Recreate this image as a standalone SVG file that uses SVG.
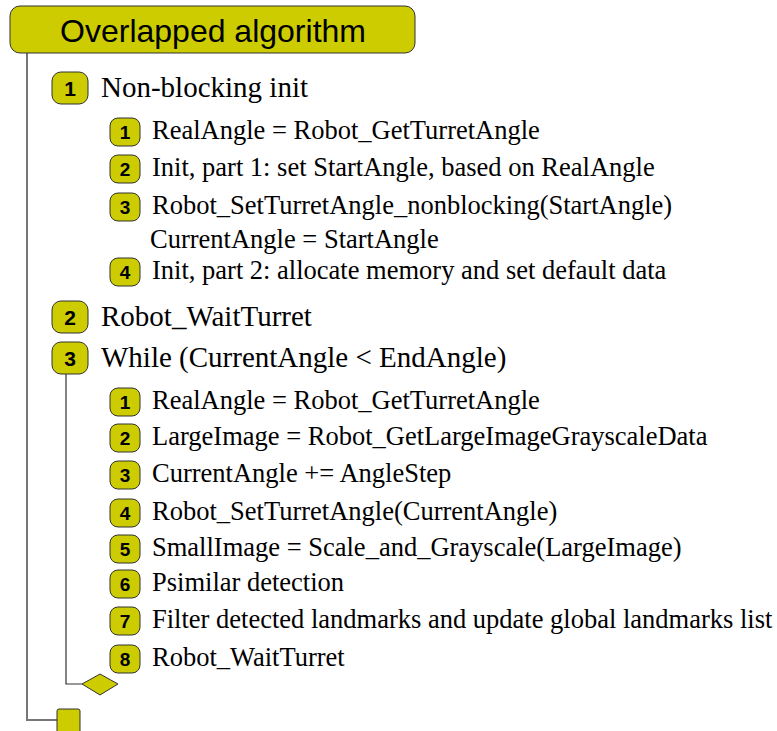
<svg xmlns="http://www.w3.org/2000/svg" width="777" height="731" viewBox="0 0 777 731">
  <style>
    .box { fill: #cccc00; stroke: #333333; stroke-width: 1; }
    .num1 { font-family: "Liberation Sans", Arial, sans-serif; font-weight: bold; font-size: 21px; fill: #000; text-anchor: middle; }
    .num2 { font-family: "Liberation Sans", Arial, sans-serif; font-weight: bold; font-size: 19px; fill: #000; text-anchor: middle; }
    .t1 { font-family: "Liberation Serif", "Times New Roman", serif; font-size: 29px; fill: #000; }
    .t2 { font-family: "Liberation Serif", "Times New Roman", serif; font-size: 26.5px; fill: #000; }
    .title { font-family: "Liberation Sans", Arial, sans-serif; font-size: 32px; fill: #000; text-anchor: middle; }
    .trunk { fill: none; stroke: #777777; stroke-width: 2; }
    .branch { fill: none; stroke: #333333; stroke-width: 1.2; }
  </style>

  <g id="connectors">
    <polyline class="trunk" points="27,53 27,720 57,720"/>
    <polyline class="branch" points="66,374 66,684 82,684"/>
  </g>

  <g id="title">
    <rect class="box" x="10" y="6" width="405" height="47" rx="10"/>
    <text class="title" x="213" y="42">Overlapped algorithm</text>
  </g>

  <!-- step 1 -->
  <g id="s1">
    <rect class="box" x="52" y="72" width="36" height="32" rx="9"/>
    <text class="num1" x="70" y="96">1</text>
    <text class="t1" x="101" y="97">Non-blocking init</text>
  </g>
  <g id="s1-1">
    <rect class="box" x="110" y="118" width="30" height="28" rx="8"/>
    <text class="num2" x="125" y="139">1</text>
    <text class="t2" x="152" y="139">RealAngle = Robot_GetTurretAngle</text>
  </g>
  <g id="s1-2">
    <rect class="box" x="110" y="155" width="30" height="28" rx="8"/>
    <text class="num2" x="125" y="176">2</text>
    <text class="t2" x="152" y="176">Init, part 1: set StartAngle, based on RealAngle</text>
  </g>
  <g id="s1-3">
    <rect class="box" x="110" y="193" width="30" height="28" rx="8"/>
    <text class="num2" x="125" y="214">3</text>
    <text class="t2" x="152" y="214">Robot_SetTurretAngle_nonblocking(StartAngle)</text>
    <text class="t2" x="150" y="248">CurrentAngle = StartAngle</text>
  </g>
  <g id="s1-4">
    <rect class="box" x="110" y="258" width="30" height="28" rx="8"/>
    <text class="num2" x="125" y="279">4</text>
    <text class="t2" x="152" y="279">Init, part 2: allocate memory and set default data</text>
  </g>

  <!-- step 2 -->
  <g id="s2">
    <rect class="box" x="52" y="301" width="36" height="32" rx="9"/>
    <text class="num1" x="70" y="325">2</text>
    <text class="t1" x="101" y="326">Robot_WaitTurret</text>
  </g>

  <!-- step 3: loop -->
  <g id="s3">
    <rect class="box" x="52" y="342" width="36" height="32" rx="9"/>
    <text class="num1" x="70" y="366">3</text>
    <text class="t1" x="101" y="367">While (CurrentAngle &lt; EndAngle)</text>
  </g>
  <g id="s3-1">
    <rect class="box" x="110" y="388" width="30" height="28" rx="8"/>
    <text class="num2" x="125" y="409">1</text>
    <text class="t2" x="152" y="409">RealAngle = Robot_GetTurretAngle</text>
  </g>
  <g id="s3-2">
    <rect class="box" x="110" y="424" width="30" height="28" rx="8"/>
    <text class="num2" x="125" y="445">2</text>
    <text class="t2" x="152" y="445">LargeImage = Robot_GetLargeImageGrayscaleData</text>
  </g>
  <g id="s3-3">
    <rect class="box" x="110" y="461" width="30" height="28" rx="8"/>
    <text class="num2" x="125" y="482">3</text>
    <text class="t2" x="152" y="482">CurrentAngle += AngleStep</text>
  </g>
  <g id="s3-4">
    <rect class="box" x="110" y="499" width="30" height="28" rx="8"/>
    <text class="num2" x="125" y="520">4</text>
    <text class="t2" x="152" y="520">Robot_SetTurretAngle(CurrentAngle)</text>
  </g>
  <g id="s3-5">
    <rect class="box" x="110" y="535" width="30" height="28" rx="8"/>
    <text class="num2" x="125" y="556">5</text>
    <text class="t2" x="152" y="556">SmallImage = Scale_and_Grayscale(LargeImage)</text>
  </g>
  <g id="s3-6">
    <rect class="box" x="110" y="570" width="30" height="28" rx="8"/>
    <text class="num2" x="125" y="591">6</text>
    <text class="t2" x="152" y="591">Psimilar detection</text>
  </g>
  <g id="s3-7">
    <rect class="box" x="110" y="607" width="30" height="28" rx="8"/>
    <text class="num2" x="125" y="628">7</text>
    <text class="t2" x="152" y="628">Filter detected landmarks and update global landmarks list</text>
  </g>
  <g id="s3-8">
    <rect class="box" x="110" y="645" width="30" height="28" rx="8"/>
    <text class="num2" x="125" y="666">8</text>
    <text class="t2" x="152" y="666">Robot_WaitTurret</text>
  </g>

  <!-- loop end and algorithm end markers -->
  <g id="loop-end">
    <polygon class="box" points="82,684 100,674 118,684 100,695"/>
  </g>
  <g id="end">
    <rect class="box" x="57" y="709" width="23" height="26" rx="2"/>
  </g>
</svg>
